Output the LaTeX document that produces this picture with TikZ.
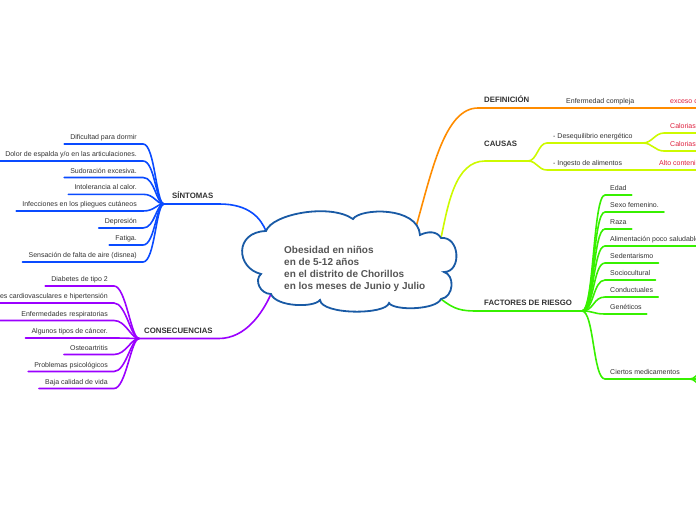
\documentclass[tikz,border=0pt]{standalone}
\usepackage{fontspec}
\setmainfont{Liberation Sans}
\definecolor{sintblue}{RGB}{10,75,255}
\definecolor{conspurple}{RGB}{155,0,255}
\definecolor{deforange}{RGB}{255,140,0}
\definecolor{causyellow}{RGB}{205,250,0}
\definecolor{factgreen}{RGB}{55,240,0}
\definecolor{cloudblue}{RGB}{25,90,165}
\definecolor{labelgray}{RGB}{50,50,50}
\definecolor{titlegray}{RGB}{85,85,85}
\definecolor{notered}{RGB}{222,30,60}
\begin{document}
\begin{tikzpicture}[x=1pt,y=-1pt,%
% common options for the category labels:
topic/.style = {font=\fontsize{7.8}{9}\selectfont\bfseries, text=labelgray,
            text depth=0pt, inner xsep=6pt, inner ysep=5.2pt},
% common options for the leaves:
leaf/.style = {font=\fontsize{7}{8}\selectfont, text=labelgray, text height=5pt,
            text depth=1.5pt, inner xsep=6pt, inner ysep=2.8pt},
note/.style = {leaf, text=notered},
% common options for the lines:
branch/.style = {line width=1.6pt, line cap=round},
cloudline/.style = {draw=cloudblue, line width=1.8pt, fill=white}]
\useasboundingbox (0,0) rectangle (696,520);
% cloud junctions
\coordinate (j1) at (266,231);
\coordinate (j2) at (353,219);
\coordinate (j4) at (420,235);
\coordinate (j4b) at (441,238);
\coordinate (j5) at (444,272);
\coordinate (j6) at (441,299);
\coordinate (j7) at (389,303);
\coordinate (j8) at (320,300);
\coordinate (j9) at (271,294);
\coordinate (j10) at (261,274);
\coordinate (cdef) at (416,227);
% hubs
\coordinate (sinthub) at (164,204);
\coordinate (conshub) at (139,338.5);
\coordinate (cauin) at (485,161);
\coordinate (caushub) at (528,161);
\coordinate (deshub) at (643,143);
\coordinate (facthub) at (582,311);
\coordinate (medhub) at (690,379);
\coordinate (m1) at (712,357);
\coordinate (m2) at (712,379);
\coordinate (m3) at (712,401);
% SINTOMAS
\node[topic,anchor=south west] (sint) at (166,204) {SÍNTOMAS};
\node[leaf,anchor=south east] (s1) at (143,144) {Dificultad para dormir};
\node[leaf,anchor=south east] (s2) at (143,161) {Dolor de espalda y/o en las articulaciones.};
\node[leaf,anchor=south east] (s3) at (143,177.5) {Sudoración excesiva.};
\node[leaf,anchor=south east] (s4) at (143,194.3) {Intolerancia al calor.};
\node[leaf,anchor=south east] (s5) at (143,211) {Infecciones en los pliegues cutáneos};
\node[leaf,anchor=south east] (s6) at (143,228) {Depresión};
\node[leaf,anchor=south east] (s7) at (143,245) {Fatiga.};
\node[leaf,anchor=south east] (s8) at (143,262) {Sensación de falta de aire (disnea)};
\draw[branch,sintblue] (j1) .. controls (261,219) and (250,204) .. (sint.south east) -- (sinthub);
\draw[branch,sintblue] (sinthub) .. controls +(-8,0) and +(12,0) .. (s1.south east) -- (s1.south west);
\draw[branch,sintblue] (sinthub) .. controls +(-8,0) and +(12,0) .. (s2.south east) -- (s2.south west);
\draw[branch,sintblue] (sinthub) .. controls +(-8,0) and +(12,0) .. (s3.south east) -- (s3.south west);
\draw[branch,sintblue] (sinthub) .. controls +(-8,0) and +(12,0) .. (s4.south east) -- (s4.south west);
\draw[branch,sintblue] (sinthub) .. controls +(-8,0) and +(12,0) .. (s5.south east) -- (s5.south west);
\draw[branch,sintblue] (sinthub) .. controls +(-8,0) and +(12,0) .. (s6.south east) -- (s6.south west);
\draw[branch,sintblue] (sinthub) .. controls +(-8,0) and +(12,0) .. (s7.south east) -- (s7.south west);
\draw[branch,sintblue] (sinthub) .. controls +(-8,0) and +(12,0) .. (s8.south east) -- (s8.south west);
% CONSECUENCIAS
\node[topic,anchor=south west] (cons) at (138,338.5) {CONSECUENCIAS};
\node[leaf,anchor=south east] (k1) at (114,286) {Diabetes de tipo 2};
\node[leaf,anchor=south east] (k2) at (114,303) {Enfermedades cardiovasculares e hipertensión};
\node[leaf,anchor=south east,text width=108pt,align=right] (k3) at (114,320.5) {Enfermedades respiratorias};
\node[leaf,anchor=south east] (k4) at (114,338) {Algunos tipos de cáncer.};
\node[leaf,anchor=south east] (k5) at (114,354.5) {Osteoartritis};
\node[leaf,anchor=south east] (k6) at (114,371.5) {Problemas psicológicos};
\node[leaf,anchor=south east] (k7) at (114,388.5) {Baja calidad de vida};
\draw[branch,conspurple] (j9) .. controls (263,312) and (246,338.5) .. (cons.south east) -- (conshub);
\draw[branch,conspurple] (conshub) .. controls +(-8,0) and +(12,0) .. (k1.south east) -- (k1.south west);
\draw[branch,conspurple] (conshub) .. controls +(-8,0) and +(12,0) .. (k2.south east) -- (k2.south west);
\draw[branch,conspurple] (conshub) .. controls +(-8,0) and +(12,0) .. (k3.south east) -- (k3.south west);
\draw[branch,conspurple] (conshub) .. controls +(-8,0) and +(12,0) .. (k4.south east) -- (k4.south west);
\draw[branch,conspurple] (conshub) .. controls +(-8,0) and +(12,0) .. (k5.south east) -- (k5.south west);
\draw[branch,conspurple] (conshub) .. controls +(-8,0) and +(12,0) .. (k6.south east) -- (k6.south west);
\draw[branch,conspurple] (conshub) .. controls +(-8,0) and +(12,0) .. (k7.south east) -- (k7.south west);
% DEFINICION
\node[topic,anchor=south west] (def) at (478,108) {DEFINICIÓN};
\node[leaf,anchor=south west] (d1) at (560,108) {Enfermedad compleja};
\node[note,anchor=south west] (d2) at (664,108) {exceso de};
\draw[branch,deforange] (cdef) .. controls (432,170) and (445,108) .. (def.south west) -- (def.south east)
    -- (d1.south west) -- (d1.south east) -- (d2.south west) -- (d2.south east);
% CAUSAS
\node[topic,anchor=base west,inner sep=0] (caus) at (484,146.8) {CAUSAS};
\node[leaf,anchor=south west] (c1) at (547,143) {- Desequilibrio energético};
\node[leaf,anchor=south west] (c2) at (547,170) {- Ingesto de alimentos};
\node[note,anchor=south west] (c11) at (664,133) {Calorias};
\node[note,anchor=south west] (c12) at (664,151) {Calorias};
\node[note,anchor=south west] (c3) at (653,170) {Alto contenido};
\draw[branch,causyellow] (j4b) .. controls (448,205) and (455,161) .. (cauin) -- (caushub);
\draw[branch,causyellow] (caushub) .. controls +(9,0) and +(-9,0) .. (c1.south west) -- (c1.south east) -- (deshub);
\draw[branch,causyellow] (caushub) .. controls +(9,0) and +(-9,0) .. (c2.south west) -- (c2.south east)
    -- (c3.south west) -- (c3.south east);
\draw[branch,causyellow] (deshub) .. controls +(9,0) and +(-9,0) .. (c11.south west) -- (c11.south east);
\draw[branch,causyellow] (deshub) .. controls +(9,0) and +(-9,0) .. (c12.south west) -- (c12.south east);
% FACTORES DE RIESGO
\node[topic,anchor=south west] (fact) at (478,311) {FACTORES DE RIESGO};
\node[leaf,anchor=south west,inner xsep=5pt] (f1) at (605,195) {Edad};
\node[leaf,anchor=south west,inner xsep=5pt] (f2) at (605,212) {Sexo femenino.};
\node[leaf,anchor=south west,inner xsep=5pt] (f3) at (605,229) {Raza};
\node[leaf,anchor=south west,inner xsep=5pt] (f4) at (605,246) {Alimentación poco saludable};
\node[leaf,anchor=south west,inner xsep=5pt] (f5) at (605,263) {Sedentarismo};
\node[leaf,anchor=south west,inner xsep=5pt] (f6) at (605,280) {Sociocultural};
\node[leaf,anchor=south west,inner xsep=5pt] (f7) at (605,297) {Conductuales};
\node[leaf,anchor=south west,inner xsep=5pt] (f8) at (605,314) {Genéticos};
\node[leaf,anchor=south west,inner xsep=5pt] (f9) at (605,379) {Ciertos medicamentos};
\draw[branch,factgreen] (j6) .. controls (455,310) and (462,311) .. (fact.south west) -- (fact.south east) -- (facthub);
\draw[branch,factgreen] (facthub) .. controls +(12,0) and +(-12,0) .. (f1.south west) -- (f1.south east);
\draw[branch,factgreen] (facthub) .. controls +(12,0) and +(-12,0) .. (f2.south west) -- (f2.south east);
\draw[branch,factgreen] (facthub) .. controls +(12,0) and +(-12,0) .. (f3.south west) -- (f3.south east);
\draw[branch,factgreen] (facthub) .. controls +(12,0) and +(-12,0) .. (f4.south west) -- (f4.south east);
\draw[branch,factgreen] (facthub) .. controls +(12,0) and +(-12,0) .. (f5.south west) -- (f5.south east);
\draw[branch,factgreen] (facthub) .. controls +(12,0) and +(-12,0) .. (f6.south west) -- (f6.south east);
\draw[branch,factgreen] (facthub) .. controls +(12,0) and +(-12,0) .. (f7.south west) -- (f7.south east);
\draw[branch,factgreen] (facthub) .. controls +(12,0) and +(-12,0) .. (f8.south west) -- (f8.south east);
\draw[branch,factgreen] (facthub) .. controls +(12,0) and +(-12,0) .. (f9.south west) -- (f9.south east) -- (medhub);
\draw[branch,factgreen] (medhub) .. controls +(8,0) and +(-6,4) .. (m1);
\draw[branch,factgreen] (medhub) -- (m2);
\draw[branch,factgreen] (medhub) .. controls +(8,0) and +(-6,-4) .. (m3);
% central cloud
\draw[cloudline] (j1) .. controls (272,214) and (330,203) .. (j2)
    .. controls (360,208) and (418,206) .. (j4)
    .. controls (428,231) and (437,231) .. (j4b)
    .. controls (460,236) and (462,272) .. (j5)
    .. controls (455,275) and (454,297) .. (j6)
    .. controls (436,310) and (394,311) .. (j7)
    .. controls (386,315) and (322,315) .. (j8)
    .. controls (314,308) and (276,307) .. (j9)
    .. controls (260,294) and (254,280) .. (j10)
    .. controls (236,268) and (234,232) .. (j1) -- cycle;
\node[anchor=north west,align=left,inner sep=0,text=titlegray,
      font=\fontsize{10}{12}\selectfont\bfseries] (title) at (284,246)
      {Obesidad en niños\\en de 5-12 años\\en el distrito de Chorillos\\en los meses de Junio y Julio};
\end{tikzpicture}
\end{document}
